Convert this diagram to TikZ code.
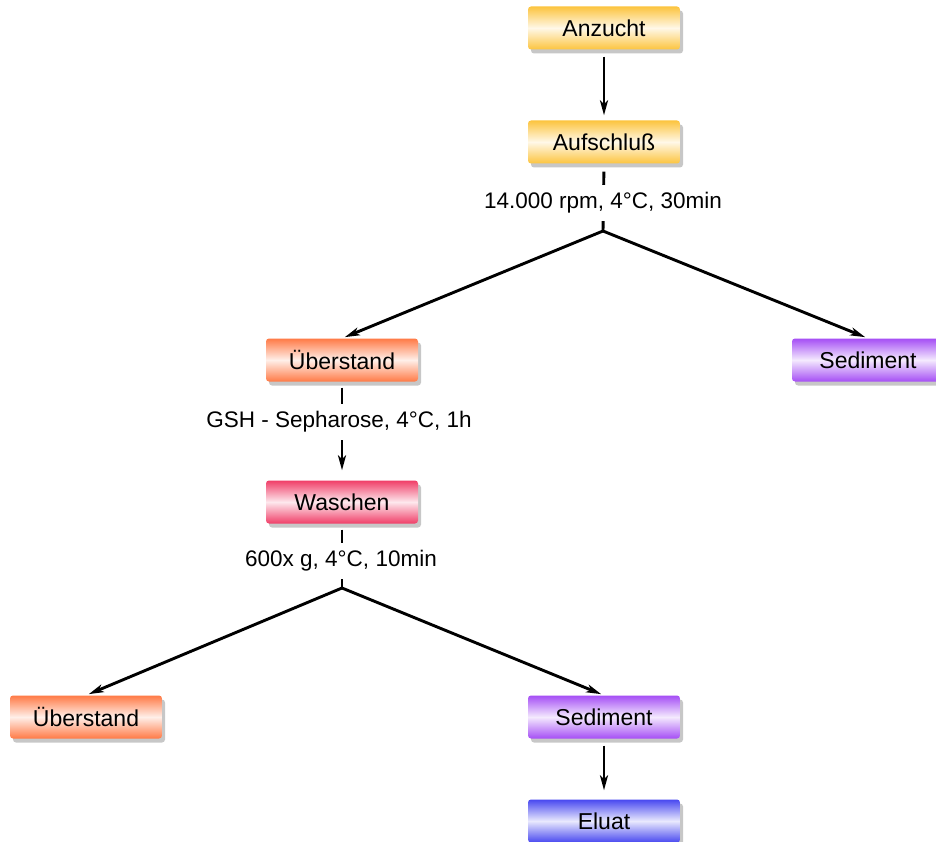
\documentclass[tikz,border=0pt]{standalone}
\usepackage{fontspec}
\setmainfont{Liberation Sans}
\usetikzlibrary{shadows,arrows.meta}
\definecolor{cyel}{RGB}{252,196,62}
\definecolor{cora}{RGB}{255,122,70}
\definecolor{cred}{RGB}{240,62,104}
\definecolor{cvio}{RGB}{165,78,245}
\definecolor{cblu}{RGB}{72,72,240}
\tikzset{
  box/.style={rounded corners=3pt, minimum width=152pt, minimum height=43pt,
    inner sep=0pt, font=\fontsize{23}{27}\selectfont,
    top color=#1, bottom color=#1, middle color=#1!12,
    drop shadow={shadow xshift=3pt, shadow yshift=-4pt, opacity=0.22, fill=black}},
  lbl/.style={fill=white, inner xsep=3pt, minimum height=36pt, inner ysep=0pt,
    font=\fontsize{22.5}{26}\selectfont},
  conn/.style={line width=2.9pt, black},
  arr/.style={conn, -{Stealth[length=15pt,width=8pt,inset=4pt]}}
}
\begin{document}
\begin{tikzpicture}[x=1pt,y=-1pt]
\useasboundingbox (0,0) rectangle (936,842);
% nodes
\node[box=cyel] (anz) at (604,28) {Anzucht};
\node[box=cyel] (auf) at (604,142) {Aufschluß};
\coordinate (j1) at (603,231);
\node[box=cora] (ub1) at (342,360) {Überstand};
\node[box=cvio] (sed1) at (868,360) {Sediment};
\node[box=cred] (wa) at (342,502) {Waschen};
\coordinate (j2) at (342,588);
\node[box=cora] (ub2) at (86,717) {Überstand};
\node[box=cvio] (sed2) at (604,717) {Sediment};
\node[box=cblu] (elu) at (604,821) {Eluat};
% connectors
\draw[arr, shorten <=7pt, shorten >=5pt] (anz.south) -- (auf.north);
\draw[conn, shorten <=8pt] (auf.south) -- (j1);
\draw[arr, shorten >=3pt] (j1) -- (ub1.north);
\draw[arr, shorten >=3pt] (j1) -- (sed1.north);
\draw[arr, shorten <=6pt, shorten >=10pt] (ub1.south) -- (wa.north);
\draw[conn, shorten <=6pt] (wa.south) -- (j2);
\draw[arr, shorten >=3pt] (j2) -- (ub2.north);
\draw[arr, shorten >=3pt] (j2) -- (sed2.north);
\draw[arr, shorten <=7pt, shorten >=9pt] (sed2.south) -- (elu.north);
% labels
\node[lbl] (l1) at (603,203) {14.000 rpm, 4°C, 30min};
\node[lbl] (l2) at (339,422) {GSH - Sepharose, 4°C, 1h};
\node[lbl] (l3) at (341,561) {600x g, 4°C, 10min};
\end{tikzpicture}
\end{document}
